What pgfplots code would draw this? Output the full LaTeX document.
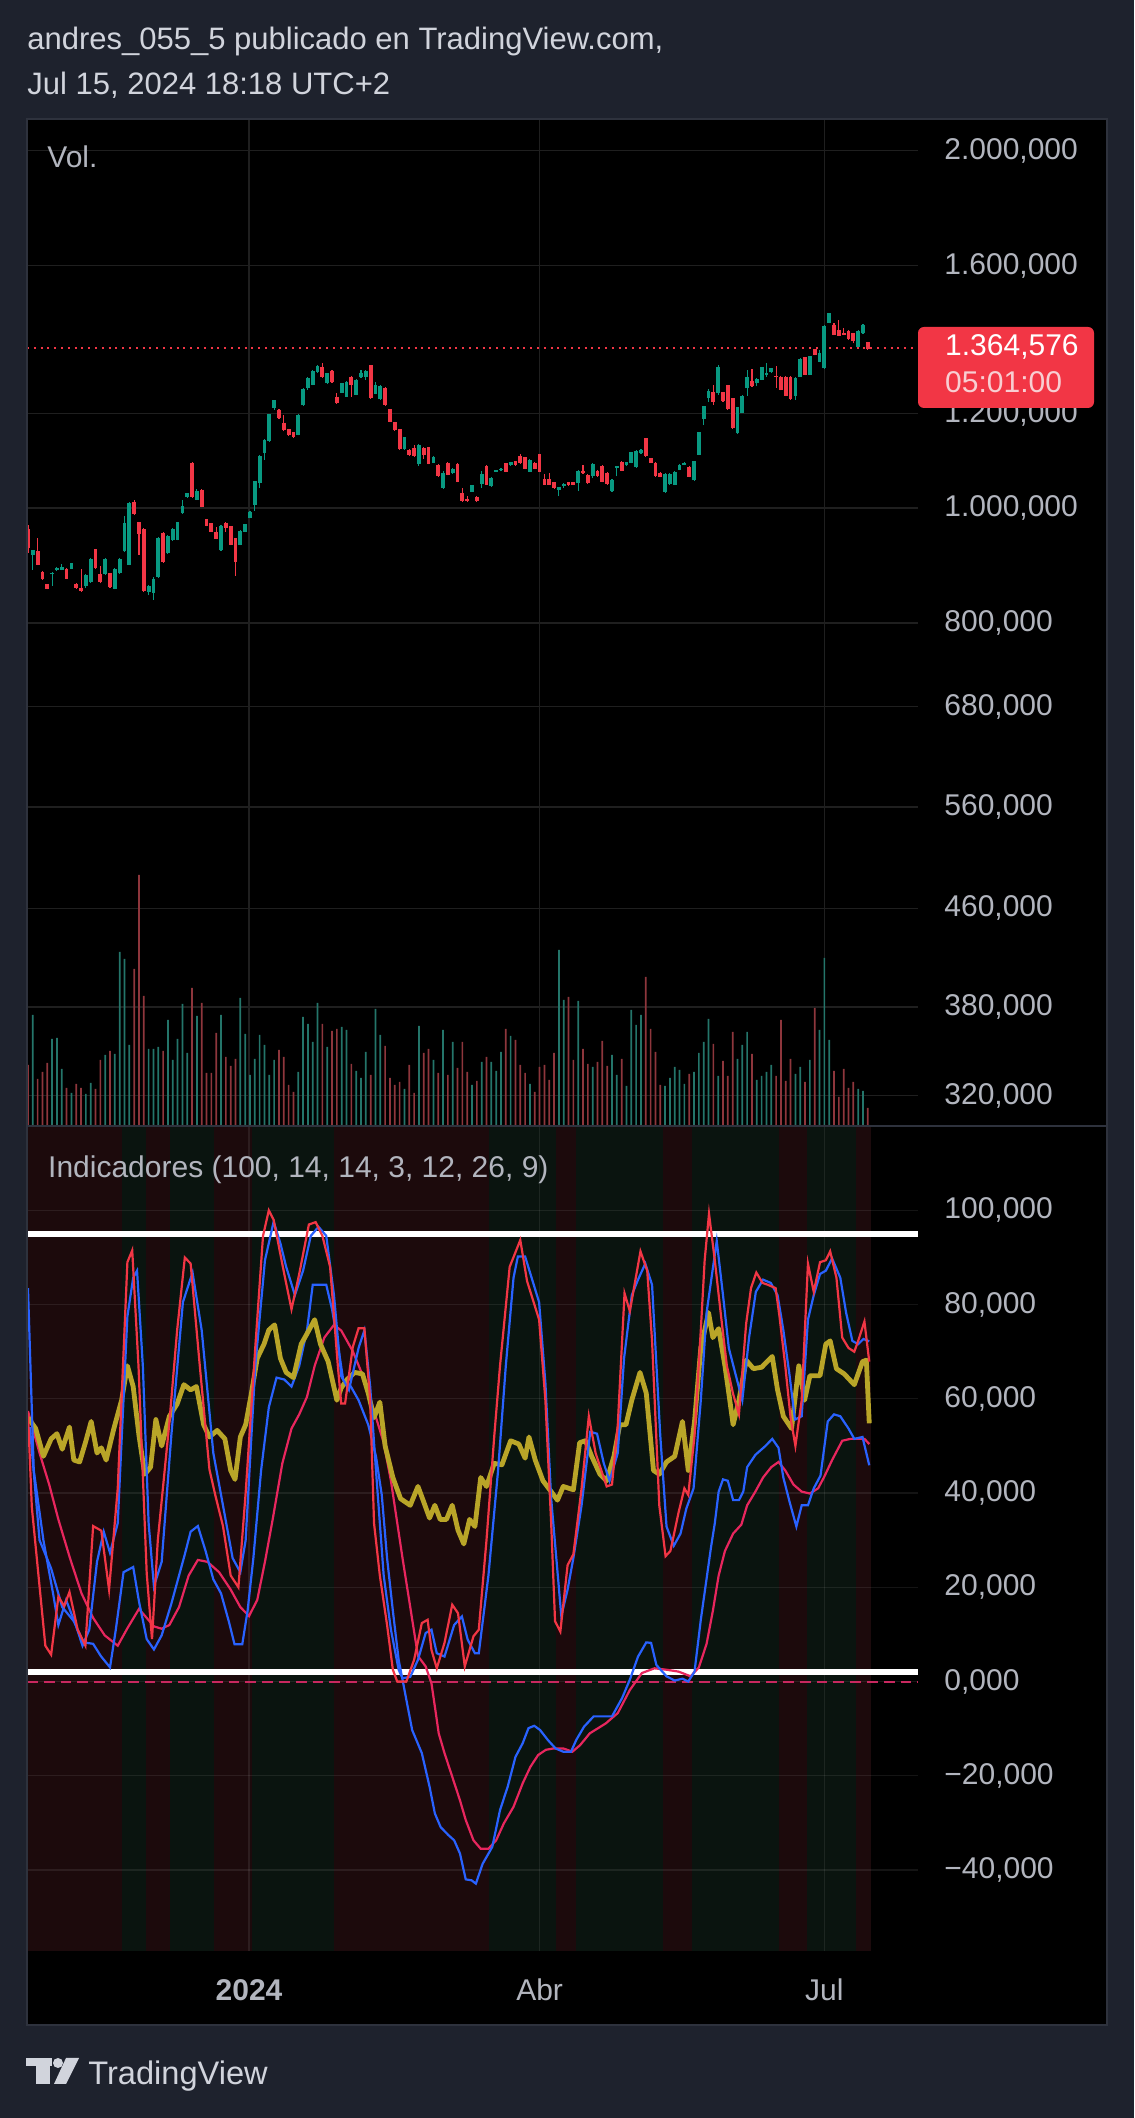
\documentclass[border=0pt]{standalone}
\usepackage{fontspec}
\setmainfont{Liberation Sans}
\usepackage{pgfplots}
\usepackage{pgfplotstable}
\pgfplotsset{compat=1.18}
\definecolor{bgpage}{HTML}{1E222D}
\definecolor{framecol}{HTML}{2E323D}
\definecolor{txt}{HTML}{D1D4DC}
\definecolor{lbl}{HTML}{B2B5BE}
\definecolor{gridp}{HTML}{1F1F1F}
\definecolor{cgreen}{HTML}{089981}
\definecolor{cred}{HTML}{F23645}
\definecolor{volgreen}{HTML}{24756A}
\definecolor{volred}{HTML}{8E363C}
\definecolor{bandred}{HTML}{1C0A0C}
\definecolor{bandgreen}{HTML}{0A140F}
\definecolor{stochk}{HTML}{F23645}
\definecolor{blueline}{HTML}{2962FF}
\definecolor{rsiy}{HTML}{B9A528}
\definecolor{sigpink}{HTML}{E8265E}
\definecolor{zerodash}{HTML}{C8285F}
\definecolor{boxtxt}{HTML}{F8CED2}

\pgfplotstableread{
i o h l c v
0 960 968 916 925 60
1 913 922 887 922 110
2 919 943 895 895 46
3 883 885 870 872 53
4 863 863 854 855 62
5 879 883 860 882 86
6 886 891 885 890 87
7 887 897 886 891 56
8 889 890 871 872 37
9 889 899 888 898 32
10 863 864 855 856 41
11 857 889 850 851 37
12 860 880 856 878 31
13 866 907 865 906 42
14 923 924 889 890 36
15 880 893 864 866 65
16 879 907 878 906 70
17 881 882 857 858 74
18 855 890 854 889 71
19 881 908 880 905 173
20 919 985 918 972 166
21 896 1012 895 1010 80
22 1012 1015 986 988 156
23 973 974 913 950 250
24 960 962 850 851 129
25 849 861 844 859 76
26 848 874 837 872 76
27 875 945 873 943 78
28 952 955 899 900 74
29 916 949 915 947 105
30 940 962 938 960 65
31 940 974 939 973 86
32 990 1016 989 1004 121
33 1021 1030 1020 1029 72
34 1092 1093 1020 1021 137
35 1016 1037 1015 1033 109
36 1036 1037 1001 1002 122
37 978 979 965 966 52
38 971 972 954 955 52
39 955 963 941 942 92
40 921 968 920 966 110
41 972 973 954 962 68
42 965 966 930 931 59
43 943 944 877 901 66
44 931 958 930 957 127
45 955 970 954 969 91
46 981 995 980 992 50
47 1006 1054 995 1053 66
48 1049 1107 1040 1106 90
49 1112 1142 1098 1141 80
50 1138 1200 1137 1199 50
51 1214 1233 1210 1232 65
52 1210 1212 1188 1190 75
53 1180 1198 1160 1163 68
54 1165 1166 1150 1152 40
55 1158 1159 1145 1148 33
56 1152 1200 1151 1198 53
57 1220 1262 1219 1260 108
58 1261 1288 1258 1286 101
59 1270 1306 1268 1304 83
60 1302 1320 1300 1317 122
61 1315 1324 1287 1288 101
62 1274 1300 1272 1298 78
63 1305 1307 1275 1276 94
64 1241 1250 1224 1225 96
65 1250 1274 1249 1273 98
66 1241 1278 1240 1276 95
67 1289 1291 1241 1268 61
68 1245 1283 1244 1282 54
69 1288 1306 1287 1298 47
70 1290 1307 1282 1305 73
71 1319 1320 1236 1238 50
72 1248 1277 1246 1268 116
73 1234 1268 1233 1266 90
74 1262 1264 1219 1220 79
75 1211 1212 1181 1182 47
76 1181 1182 1161 1162 40
77 1165 1166 1119 1120 43
78 1120 1148 1119 1147 36
79 1119 1120 1106 1107 60
80 1124 1130 1104 1105 32
81 1089 1131 1085 1130 99
82 1124 1125 1100 1107 72
83 1125 1126 1088 1089 76
84 1092 1105 1091 1104 65
85 1087 1088 1062 1063 52
86 1039 1074 1038 1070 95
87 1092 1093 1065 1066 50
88 1070 1080 1069 1079 83
89 1089 1090 1051 1052 57
90 1029 1040 1012 1013 83
91 1017 1023 1012 1013 53
92 1032 1046 1031 1045 40
93 1022 1023 1012 1013 44
94 1048 1074 1039 1068 63
95 1084 1087 1045 1046 68
96 1043 1061 1042 1060 63
97 1073 1077 1072 1076 54
98 1076 1080 1075 1079 73
99 1090 1091 1072 1073 96
100 1086 1094 1085 1093 89
101 1095 1096 1085 1086 85
102 1105 1110 1089 1090 60
103 1103 1104 1078 1079 52
104 1073 1099 1072 1098 41
105 1092 1093 1078 1079 33
106 1110 1111 1072 1073 58
107 1057 1068 1045 1046 60
108 1058 1070 1045 1046 45
109 1051 1052 1038 1039 72
110 1036 1042 1023 1041 175
111 1044 1049 1040 1048 125
112 1051 1052 1044 1045 128
113 1051 1052 1045 1046 65
114 1049 1076 1033 1075 124
115 1075 1087 1069 1070 76
116 1066 1067 1048 1049 61
117 1064 1090 1059 1089 58
118 1075 1076 1062 1063 63
119 1084 1086 1051 1052 84
120 1071 1072 1046 1047 59
121 1033 1057 1032 1056 70
122 1080 1085 1063 1084 50
123 1094 1095 1074 1075 66
124 1086 1094 1085 1093 39
125 1091 1115 1090 1114 115
126 1082 1118 1081 1117 100
127 1112 1120 1111 1119 110
128 1145 1146 1104 1105 148
129 1101 1102 1091 1092 96
130 1092 1093 1062 1063 73
131 1070 1073 1061 1062 40
132 1032 1070 1030 1068 39
133 1047 1070 1046 1068 47
134 1046 1074 1045 1073 58
135 1077 1088 1076 1087 55
136 1087 1093 1086 1092 41
137 1083 1084 1061 1062 51
138 1055 1096 1054 1095 53
139 1109 1159 1108 1158 72
140 1188 1219 1174 1218 83
141 1237 1260 1229 1254 106
142 1253 1269 1222 1229 81
143 1250 1320 1245 1315 49
144 1251 1252 1228 1231 64
145 1269 1270 1209 1211 49
146 1237 1238 1166 1167 93
147 1156 1216 1155 1215 66
148 1203 1244 1202 1243 80
149 1261 1307 1243 1290 93
150 1279 1309 1265 1267 71
151 1273 1286 1266 1285 45
152 1282 1314 1281 1313 49
153 1294 1324 1290 1299 53
154 1301 1312 1300 1311 60
155 1291 1318 1262 1288 49
156 1290 1291 1256 1257 105
157 1290 1291 1242 1243 44
158 1290 1291 1233 1234 66
159 1243 1288 1233 1287 51
160 1290 1337 1289 1336 58
161 1339 1340 1293 1294 43
162 1294 1343 1293 1342 65
163 1360 1362 1344 1346 117
164 1328 1357 1327 1350 95
165 1311 1425 1310 1423 167
166 1431 1460 1430 1459 85
167 1426 1431 1398 1399 54
168 1412 1440 1395 1396 28
169 1403 1417 1398 1399 56
170 1410 1411 1386 1387 37
171 1403 1404 1376 1383 43
172 1367 1411 1366 1410 36
173 1403 1428 1402 1427 34
174 1379 1380 1359 1360 17
}\candles

% build candle coordinate lists (wicks and bodies, split by direction)
\gdef\wup{}\gdef\wdn{}\gdef\bup{}\gdef\bdn{}
\pgfplotstablegetrowsof{\candles}
\pgfmathtruncatemacro\nlast{\pgfplotsretval-1}
\foreach \k in {0,...,\nlast}{%
  \pgfplotstablegetelem{\k}{i}\of\candles\let\ci\pgfplotsretval
  \pgfplotstablegetelem{\k}{o}\of\candles\let\co\pgfplotsretval
  \pgfplotstablegetelem{\k}{h}\of\candles\let\ch\pgfplotsretval
  \pgfplotstablegetelem{\k}{l}\of\candles\let\cl\pgfplotsretval
  \pgfplotstablegetelem{\k}{c}\of\candles\let\cc\pgfplotsretval
  \ifdim\cc pt<\co pt\relax
    \xdef\wdn{\wdn(\ci,\cl)(\ci,\ch)(\ci,nan)}%
    \xdef\bdn{\bdn(\ci,\co)(\ci,\cc)(\ci,nan)}%
  \else
    \xdef\wup{\wup(\ci,\cl)(\ci,\ch)(\ci,nan)}%
    \xdef\bup{\bup(\ci,\co)(\ci,\cc)(\ci,nan)}%
  \fi
}

\pgfplotsset{
  wick/.style={line width=0.55pt, line cap=butt},
  body/.style={line width=1.9pt, line cap=butt},
}
\tikzset{lblfont/.style={font=\fontsize{15}{18}\selectfont, text=lbl}}

\begin{document}
\begin{tikzpicture}[x=1pt,y=1pt]
\fill[bgpage] (0,0) rectangle (567,1059);
\useasboundingbox (0,0) rectangle (567,1059);
\fill[black] (13.5,46.5) rectangle (553.5,999.5);

% header
\node[anchor=base west, inner sep=0, text=txt, font=\fontsize{15.5}{18}\selectfont] at (13.5,1034) {andres\_055\_5 publicado en TradingView.com,};
\node[anchor=base west, inner sep=0, text=txt, font=\fontsize{15.5}{18}\selectfont] at (13.5,1011.5) {Jul 15, 2024 18:18 UTC+2};

% ---------------- price pane ----------------
\begin{axis}[
  at={(13.5pt,496.5pt)}, anchor=south west,
  width=445.5pt, height=503pt, scale only axis,
  xmin=-0.2, xmax=184.4,
  ymode=log, ymin=302.3, ymax=2126,
  axis line style={draw=none}, major tick length=0pt,
  ytick={320,380,460,560,680,800,1000,1200,1600,2000},
  yticklabels={{320,000},{380,000},{460,000},{560,000},{680,000},{800,000},{1.000,000},{1.200,000},{1.600,000},{2.000,000}},
  yticklabel pos=right,
  yticklabel style={lblfont, anchor=west, inner sep=0pt, xshift=13pt},
  xtick={45.8,106,165}, xticklabels={,,},
  xmajorgrids, ymajorgrids,
  major grid style={gridp, line width=0.6pt},
  unbounded coords=jump,
]
\addplot[cred, line width=1pt, dash pattern=on 1pt off 2.4pt] coordinates {(-0.2,1364.576)(184.4,1364.576)};
\edef\tmp{\noexpand\addplot[wick, draw=cgreen] coordinates {\wup};}\tmp
\edef\tmp{\noexpand\addplot[wick, draw=cred] coordinates {\wdn};}\tmp
\edef\tmp{\noexpand\addplot[body, draw=cgreen] coordinates {\bup};}\tmp
\edef\tmp{\noexpand\addplot[body, draw=cred] coordinates {\bdn};}\tmp
\end{axis}

% ---------------- volume overlay ----------------
\begin{axis}[
  at={(13.5pt,496.5pt)}, anchor=south west,
  width=445.5pt, height=503pt, scale only axis,
  xmin=-0.2, xmax=184.4, ymin=0, ymax=1006,
  hide axis,
]
\addplot[ybar, bar width=0.85pt, bar shift=0pt, fill=volgreen, draw=none]
  table[x=i, y expr={\thisrow{c}>=\thisrow{o} ? \thisrow{v} : 0}]{\candles};
\addplot[ybar, bar width=0.85pt, bar shift=0pt, fill=volred, draw=none]
  table[x=i, y expr={\thisrow{c}>=\thisrow{o} ? 0 : \thisrow{v}}]{\candles};
\end{axis}

\node[anchor=base west, inner sep=0, lblfont] at (23.5,975.4) {Vol.};

% ---------------- indicator background bands ----------------
\begin{axis}[
  at={(13.5pt,83.5pt)}, anchor=south west,
  width=445.5pt, height=412pt, scale only axis,
  xmin=-0.2, xmax=184.4, ymin=-57.2, ymax=117.7,
  hide axis,
]
\addplot[fill=bandred, draw=none] coordinates {(-0.5,-57.2)(19.5,-57.2)(19.5,117.7)(-0.5,117.7)};
\addplot[fill=bandgreen, draw=none] coordinates {(19.5,-57.2)(24.5,-57.2)(24.5,117.7)(19.5,117.7)};
\addplot[fill=bandred, draw=none] coordinates {(24.5,-57.2)(29.5,-57.2)(29.5,117.7)(24.5,117.7)};
\addplot[fill=bandgreen, draw=none] coordinates {(29.5,-57.2)(38.5,-57.2)(38.5,117.7)(29.5,117.7)};
\addplot[fill=bandred, draw=none] coordinates {(38.5,-57.2)(46.5,-57.2)(46.5,117.7)(38.5,117.7)};
\addplot[fill=bandgreen, draw=none] coordinates {(46.5,-57.2)(63.5,-57.2)(63.5,117.7)(46.5,117.7)};
\addplot[fill=bandred, draw=none] coordinates {(63.5,-57.2)(95.5,-57.2)(95.5,117.7)(63.5,117.7)};
\addplot[fill=bandgreen, draw=none] coordinates {(95.5,-57.2)(109.5,-57.2)(109.5,117.7)(95.5,117.7)};
\addplot[fill=bandred, draw=none] coordinates {(109.5,-57.2)(113.5,-57.2)(113.5,117.7)(109.5,117.7)};
\addplot[fill=bandgreen, draw=none] coordinates {(113.5,-57.2)(131.5,-57.2)(131.5,117.7)(113.5,117.7)};
\addplot[fill=bandred, draw=none] coordinates {(131.5,-57.2)(137.5,-57.2)(137.5,117.7)(131.5,117.7)};
\addplot[fill=bandgreen, draw=none] coordinates {(137.5,-57.2)(155.5,-57.2)(155.5,117.7)(137.5,117.7)};
\addplot[fill=bandred, draw=none] coordinates {(155.5,-57.2)(161.5,-57.2)(161.5,117.7)(155.5,117.7)};
\addplot[fill=bandgreen, draw=none] coordinates {(161.5,-57.2)(171.5,-57.2)(171.5,117.7)(161.5,117.7)};
\addplot[fill=bandred, draw=none] coordinates {(171.5,-57.2)(174.6,-57.2)(174.6,117.7)(171.5,117.7)};
\end{axis}

% ---------------- indicator pane ----------------
\begin{axis}[
  at={(13.5pt,83.5pt)}, anchor=south west,
  width=445.5pt, height=412pt, scale only axis,
  xmin=-0.2, xmax=184.4, ymin=-57.2, ymax=117.7,
  axis line style={draw=none}, major tick length=0pt,
  ytick={-40,-20,0,20,40,60,80,100},
  yticklabels={{−40,000},{−20,000},{0,000},{20,000},{40,000},{60,000},{80,000},{100,000}},
  yticklabel pos=right,
  yticklabel style={lblfont, anchor=west, inner sep=0pt, xshift=13pt},
  xtick={45.8,106,165}, xticklabels={\textbf{2024},Abr,Jul},
  xticklabel style={lblfont, anchor=base, inner sep=0pt, yshift=-24.85pt},
  xmajorgrids, ymajorgrids,
  major grid style={white, opacity=0.08, line width=0.6pt},
]
\addplot[zerodash, line width=1pt, dash pattern=on 5.4pt off 3pt] coordinates {(-0.2,0)(184.4,0)};
\addplot[white, line width=3.4pt] coordinates {(-0.2,95)(184.4,95)};
\addplot[white, line width=3.4pt] coordinates {(-0.2,2)(184.4,2)};
% MACD signal
\addplot[sigpink, line width=1.1pt] coordinates {(0,57.4)(2.4,48.5)(4.4,41.8)(6.3,34.4)(8.7,26.2)(11.1,18.7)(13.5,13.5)(15.9,9.8)(18.6,7.6)(20.6,11.3)(23,15.4)(24.6,13.5)(26.1,11.7)(27.7,11.2)(29.3,12)(31.3,15.8)(33.3,22.5)(35.2,25.8)(37.2,25.4)(39.6,23.2)(42,19.5)(44,15.8)(45.8,13.9)(47.5,17.3)(49.1,25.4)(50.7,34.4)(52.7,46.3)(54.6,53.7)(56.2,56.7)(57.8,60.4)(59.4,67)(61.4,73)(63.4,75.7)(64.9,74.5)(67.3,70.1)(69.7,64.1)(71.7,57.4)(73.7,50.7)(75.2,42.6)(77.6,26.2)(79.2,15.8)(80.8,5.4)(82.4,3.2)(83.6,-0.4)(84.3,-5.3)(85.1,-11)(86.3,-15.2)(87.9,-20.2)(89.5,-25.2)(90.7,-29.4)(92.3,-33.7)(93.8,-35.5)(95.4,-35.5)(97,-33.7)(98.6,-30.1)(100.6,-26.6)(102.5,-21.6)(104.1,-18.1)(105.7,-15.6)(107.3,-14.5)(108.9,-14.2)(110.9,-14.2)(112.8,-14.9)(114.4,-13.5)(116.4,-11)(118.6,-9.6)(119.7,-8.9)(122.2,-6.7)(124.7,-1.8)(127.2,1.8)(129.8,2.8)(132.3,2.5)(134.8,2.1)(137.3,1.1)(139,3)(140.6,8)(141.9,15)(143.1,22.5)(144.4,27.7)(146.1,31.4)(147.8,33.3)(149,37.4)(150.7,40.3)(152.3,43.3)(154,45.5)(155.5,46.6)(156.9,44.8)(158.6,41.8)(160.3,40.3)(162,39.9)(163.7,41)(164.9,43.3)(166.6,47)(168.7,51.1)(170.4,51.5)(172,51.5)(173.3,51.5)(174.3,50.4)};
% MACD line
\addplot[blueline, line width=1.1pt] coordinates {(0.4,54)(2.4,30)(4.8,24)(7.1,15.8)(9.5,12.8)(11.5,8.3)(13.5,8)(15.1,5.4)(17,3)(18.2,11)(19.8,23.2)(21.8,24.3)(23,17)(24.6,9)(26.1,6.8)(27.7,9.8)(29.7,16.5)(31.3,22.5)(32.5,27)(33.7,31.8)(35.2,33)(36.8,27.7)(38.4,21.7)(40,18.7)(41.6,12.8)(42.8,7.9)(44.4,7.9)(45.5,15)(46.7,26.2)(48.3,44.8)(49.9,58.2)(51.5,64.5)(53.1,64.1)(54.6,62.6)(56.2,67)(57.8,74.5)(59,84.2)(61.8,84.2)(63,79)(64.2,71.6)(65.3,64.1)(66.9,62.6)(68.5,59.7)(70.5,54.5)(72.1,47.8)(73.3,39.6)(74.4,26.2)(75.6,15)(76.8,4.6)(77.6,0.4)(78.4,-3.9)(79.6,-10.3)(81.6,-15.2)(83.2,-22.3)(84.3,-28)(85.5,-30.9)(87.1,-32.6)(88.3,-33.7)(89.5,-36.5)(90.7,-42)(91.9,-42.2)(92.8,-42.9)(94.2,-38.7)(96.2,-35.1)(97.8,-27.3)(99.4,-22.3)(101,-16)(102.5,-13.1)(103.7,-9.9)(104.9,-9.4)(106.1,-10.3)(107.7,-12.4)(109.3,-14.2)(110.9,-14.9)(112.5,-14.9)(113.6,-12.4)(115.2,-9.6)(117.2,-7.4)(119.7,-7.4)(121,-7.4)(123.1,-3.5)(124.7,0.4)(126.4,5.3)(128.1,8.3)(129.1,8.2)(130.2,3.5)(132.3,1.1)(134,0.2)(135.6,0.6)(136.8,0)(138.1,2.1)(139.4,13.1)(141.5,28.4)(142.3,33.6)(143.1,40.3)(144,42.9)(145,42.6)(146.1,38.5)(147.3,38.5)(148.2,40.3)(149,45.5)(150.7,48.1)(152.8,50)(154.2,51.5)(155.5,49.6)(156.5,43.3)(157.8,38.1)(159.2,32.9)(160.3,37.4)(161.6,37.4)(162.8,41)(164.2,43.7)(165.7,55.2)(167,56.7)(168.3,56.3)(170,53.7)(171.2,51.5)(172.9,51.9)(174.3,45.9)};
% RSI
\addplot[rsiy, line width=2.4pt, line join=round] coordinates {(0,56)(1.6,53.7)(3.2,47.8)(4.8,51.5)(6,52.6)(7.1,49.3)(8.6,54)(9.5,47)(10.7,46.6)(11.9,50.7)(13.1,55.2)(14.3,48.5)(15.2,49.6)(16.2,47)(17.8,53.7)(19.4,59.7)(20.6,67)(21.8,62.6)(23,52.2)(24.2,44)(25.4,45.5)(26.5,55.6)(27.7,50)(29.3,56.3)(30.9,58.9)(32.3,63)(33.7,61.9)(34.9,62.6)(36.4,54.5)(37.6,51.9)(39.2,53.3)(40.8,51.5)(42,44.8)(42.9,42.9)(44,51.9)(45.1,54.5)(46.3,61.2)(47.5,68.6)(48.9,71.6)(49.9,74.6)(51.1,75.7)(52.3,68.6)(53.5,65.6)(55,64.5)(56.6,71.6)(57.8,73.8)(59.4,76.8)(60.6,71.6)(62.2,67.9)(64,59.7)(64.9,62.3)(66.1,64.1)(67.7,65.6)(69.3,65.3)(70.5,61.2)(71.7,56)(72.9,59.3)(74,50)(75.6,43.3)(77.2,38.8)(79.2,37.4)(80.8,41.4)(82,38.1)(83.2,34.7)(84.3,37.4)(85.4,34.4)(86.7,34.4)(87.9,37.4)(89.1,32.1)(90.3,29.2)(91.5,34.4)(92.6,32.9)(93.8,43.3)(95,41.4)(96.6,46.3)(98.2,46)(100,51.1)(101.7,50.4)(103,47.4)(103.8,51.9)(105.1,47)(106.7,42.6)(108.4,40.3)(109.7,38.5)(110.9,41.4)(113,40.7)(114.3,50.7)(115.5,51.1)(116.8,47.8)(118.5,44)(119.9,42.6)(121.4,47.8)(122.6,54.5)(123.9,54.5)(125.1,59.7)(126.8,65.6)(128.1,61.2)(129.6,44.8)(130.8,44)(132.3,46.6)(134,47.8)(135.6,55.2)(136.8,44.8)(138.1,55.2)(139.4,70.8)(141,78.3)(141.9,73)(143.1,74.9)(144.4,67)(145.2,61.2)(146.1,54.5)(147.3,59.7)(148.8,68.2)(150.3,66.4)(152,66.7)(154.2,69)(155.3,61.9)(156.5,56.3)(158.2,53.7)(159.7,67)(160.9,59.7)(162,64.9)(164.1,64.9)(165.3,71.6)(166.2,72.3)(167.5,66.4)(169.1,65.3)(171.2,63)(172.9,67.9)(173.7,68.2)(174.3,54.8)};
% Stoch D
\addplot[blueline, line width=1.1pt] coordinates {(0,83.5)(1.2,44.8)(3.2,30)(5.2,18.7)(6.3,12)(7.9,17.3)(9.9,12)(11.3,7.6)(12.7,11)(14.3,25.4)(15.7,31.8)(17,27.3)(18.6,33.6)(20.6,77.5)(21.8,85.7)(22.6,87.2)(23.8,67)(25,33.6)(26.1,20.2)(27.7,25.4)(29.7,52.2)(32.1,80.5)(34.1,86.8)(36,74.5)(38.4,48.5)(40.4,37.4)(42.4,26.2)(44,23.2)(45.1,30)(47.1,67)(49.1,89.4)(50.9,97.6)(52.3,93)(53.5,88)(55.3,82)(57,87.2)(58.6,94.6)(60.2,96.5)(61.8,94.6)(63.4,82)(64.9,64.8)(66.5,61.9)(68.5,70.8)(69.7,74.5)(70.9,62.6)(72.1,44.8)(73.7,22.5)(75.2,11)(76.8,2.5)(77.6,0.7)(79.2,1)(80.8,4.6)(82.4,10.3)(83.6,11)(84.7,6)(86.3,5.3)(88.3,12)(89.9,13.8)(91.1,8.9)(92.6,6)(93.4,6)(95.4,22.5)(97.4,44.8)(99,67)(100.6,85.7)(101.5,90.2)(103,90.2)(105.9,80.5)(107.2,63.4)(108.4,38.8)(110.5,13.9)(111.8,19.5)(113,26.2)(114.7,37.4)(116.5,53)(117.9,52.6)(119.3,46.3)(120.5,42.6)(122.2,48.5)(123.5,68.6)(125.1,82)(126.4,85.3)(127.9,88.7)(129.3,84.2)(131,52.2)(132.3,32.9)(133.8,28.8)(135.2,31.4)(136.4,36.7)(137.9,41)(139.4,59.7)(140.6,78.3)(142.7,93.5)(144,82)(145.2,70.8)(146.5,65.6)(148,59.7)(149.4,73)(150.8,82.7)(152.3,85.3)(153.9,84.6)(155.3,82)(156.5,74.6)(157.8,64.9)(158.9,55.6)(160.3,56.3)(161.6,76.8)(162.8,82)(164.1,86.5)(165.3,87.2)(166.6,89.8)(168.3,85.7)(169.5,78.3)(170.8,72.3)(172,71.6)(173.1,72.7)(174.3,72.2)};
% Stoch K
\addplot[stochk, line width=1.1pt] coordinates {(0,57)(0.8,37)(3.6,7.6)(4.8,5.7)(6.3,18)(7.5,16)(8.6,19)(10.3,11)(11.9,7.6)(13.5,33)(15.2,32)(16.8,19.5)(18.6,41)(20.6,89)(21.6,91.5)(22.9,67)(24.6,23)(25.7,9)(26.9,30)(29.3,55)(30.9,74.5)(32.5,90)(33.7,88.7)(35.6,67)(37.6,45)(38.8,39.6)(40.4,33)(42,22.5)(43.6,20)(45.1,40)(47.1,71)(48.7,94.6)(49.9,100)(50.9,98)(53.1,86.5)(54.6,79)(56.2,86.5)(58.2,97)(59.6,97.5)(61,94.6)(62.6,88)(64.2,67)(64.9,59)(65.7,59)(67.3,71)(68.5,75)(69.7,75)(70.9,59.7)(71.7,33.6)(72.9,22.5)(74.4,12)(75.6,2.5)(76.5,0)(78.4,0)(80,4.6)(81.6,12.4)(82.8,13.1)(83.6,6.7)(84.7,2.8)(86.3,8.2)(87.9,16.3)(89.1,14.5)(90.5,3.2)(92.3,9.6)(93.4,11)(95,30)(96.6,52)(97.8,67)(99.8,88)(102,93.7)(103.4,85)(105.9,76.8)(107.2,59.7)(108.4,33.6)(109.2,12.8)(110.3,10.6)(111.8,24.7)(113,27)(114.7,41)(116.2,56.3)(117.6,48.5)(119.9,41.4)(121,41.8)(122.2,54.5)(123.6,82.4)(124.7,78.6)(126.9,91.3)(128.3,87.2)(129.3,72.3)(130.8,37.4)(132.1,26.6)(133.1,27.7)(134.8,35.9)(136,41)(136.8,39.6)(138.1,52.2)(139.4,74.6)(140.2,89.4)(141.1,99.3)(142.3,89.4)(143.6,77.5)(144.8,67)(146.1,61)(147.3,56.7)(148.8,76)(149.8,83.5)(150.9,86.8)(152.2,84.6)(153.3,84.2)(154.9,83.5)(155.7,77.5)(156.9,67)(158,56)(159,50)(160.3,59.7)(161.6,88.7)(162.8,82.7)(164.1,89)(165.3,89.4)(166.2,91.3)(167.5,85.7)(168.7,73)(170,70.8)(171.2,70)(172,72.3)(173.3,76.4)(174.3,67.9)};
\end{axis}

\node[anchor=base west, inner sep=0, lblfont] at (23.9,470) {Indicadores (100, 14, 14, 3, 12, 26, 9)};

% price label box
\fill[cred, rounded corners=3pt] (459,855) rectangle (547,895.5);
\node[anchor=base west, inner sep=0, text=white, font=\fontsize{15}{18}\selectfont] at (472.4,881) {1.364,576};
\node[anchor=base west, inner sep=0, text=boxtxt, font=\fontsize{15}{18}\selectfont] at (472.4,862.7) {05:01:00};

% frame and separator
\draw[framecol, line width=0.8pt] (13.5,496) -- (553.5,496);
\draw[framecol, line width=1pt] (13.5,46.5) rectangle (553.5,999.5);

% footer logo
\fill[txt] (13,26) rectangle (26,30);
\fill[txt] (18,17) rectangle (25,30);
\fill[txt] (29,27.5) circle (2.5);
\fill[txt] (33,30) -- (39.5,30) -- (33,17) -- (27,17) -- cycle;
\node[anchor=base west, inner sep=0, text=txt, font=\fontsize{16.3}{19}\selectfont] at (44,16.5) {TradingView};
\end{tikzpicture}
\end{document}
